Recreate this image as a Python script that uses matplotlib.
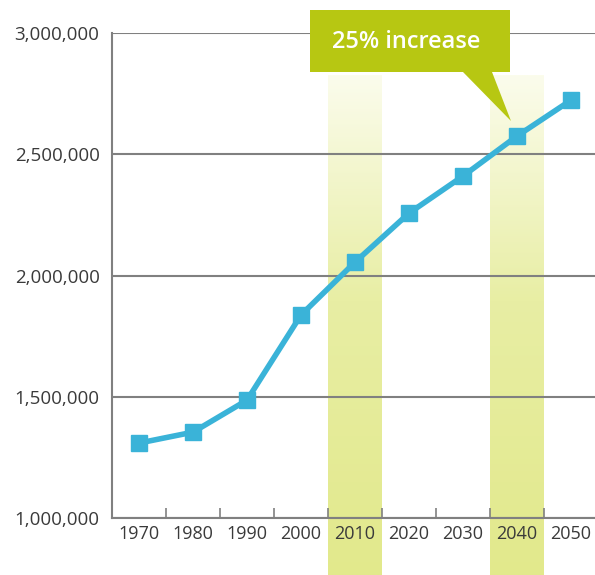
import numpy as np
import matplotlib.pyplot as plt
from matplotlib.patches import Polygon
from matplotlib.colors import LinearSegmentedColormap
from matplotlib.ticker import FuncFormatter

# data
years = ["1970", "1980", "1990", "2000", "2010", "2020", "2030", "2040", "2050"]
population = [1309000, 1354000, 1486000, 1837000, 2055000, 2257000, 2410000, 2575000, 2723000]
highlight = ["2010", "2040"]
callout_text = "25% increase"

W, H = 595, 575
fig = plt.figure(figsize=(W / 100, H / 100), dpi=100)
ax = fig.add_axes([112 / W, 57 / H, 486 / W, 485 / H])

x = list(range(len(years)))

# pale bands behind the highlighted decades, fading out towards the top
band_cmap = LinearSegmentedColormap.from_list(
    "band", [(0, "#e2e98c"), (0.55, "#e8eea4"), (1, "#fbfcec")])
grad = np.linspace(0, 1, 200).reshape(-1, 1)
for yr in highlight:
    i = years.index(yr)
    ax.imshow(grad, extent=[i - 0.5, i + 0.5, 765000, 2826000], aspect="auto",
              cmap=band_cmap, origin="lower", clip_on=False, zorder=0,
              interpolation="bilinear")

ax.plot(x, population, color="#3ab3d8", lw=4, marker="s", ms=12,
        markerfacecolor="#3ab3d8", markeredgecolor="#3ab3d8", zorder=3, clip_on=False)

ax.set_xlim(-0.5, len(years) - 0.5)
ax.set_ylim(1000000, 3000000)
ax.set_yticks([1000000, 1500000, 2000000, 2500000, 3000000])
ax.yaxis.set_major_formatter(FuncFormatter(lambda v, p: f"{int(v):,}"))
ax.set_xticks(x)
ax.set_xticklabels(years)
ax.set_xticks([i + 0.5 for i in x[:-1]], minor=True)

ax.grid(axis="y", color="#808080", lw=1.5, zorder=1)
for s in ["top", "right"]:
    ax.spines[s].set_visible(False)
for s in ["left", "bottom"]:
    ax.spines[s].set_color("#808080")
    ax.spines[s].set_linewidth(1.5)

ax.tick_params(axis="y", length=0, pad=9, labelsize=13.5, labelcolor="#3a3a3a")
ax.tick_params(axis="x", which="major", length=0, pad=5, labelsize=13, labelcolor="#3a3a3a")
ax.tick_params(axis="x", which="minor", direction="in", length=7, width=1.2, color="#808080")
for lab in ax.get_xticklabels() + ax.get_yticklabels():
    lab.set_family("Open Sans")

# callout box with pointer, in pixel coords of the image
def px(xp, yp):
    return (xp / W, 1 - yp / H)

box = Polygon([px(310, 10), px(510, 10), px(510, 72), px(492, 72), px(511, 121),
               px(463, 72), px(310, 72)], closed=True, transform=fig.transFigure,
              facecolor="#b7c712", edgecolor="none", zorder=5)
fig.patches.append(box)
fig.text(406 / W, 1 - 42 / H, callout_text, color="white", fontsize=17,
         fontweight="semibold", ha="center", va="center", family="Open Sans", zorder=6)

fig.savefig("out.png", dpi=100)
